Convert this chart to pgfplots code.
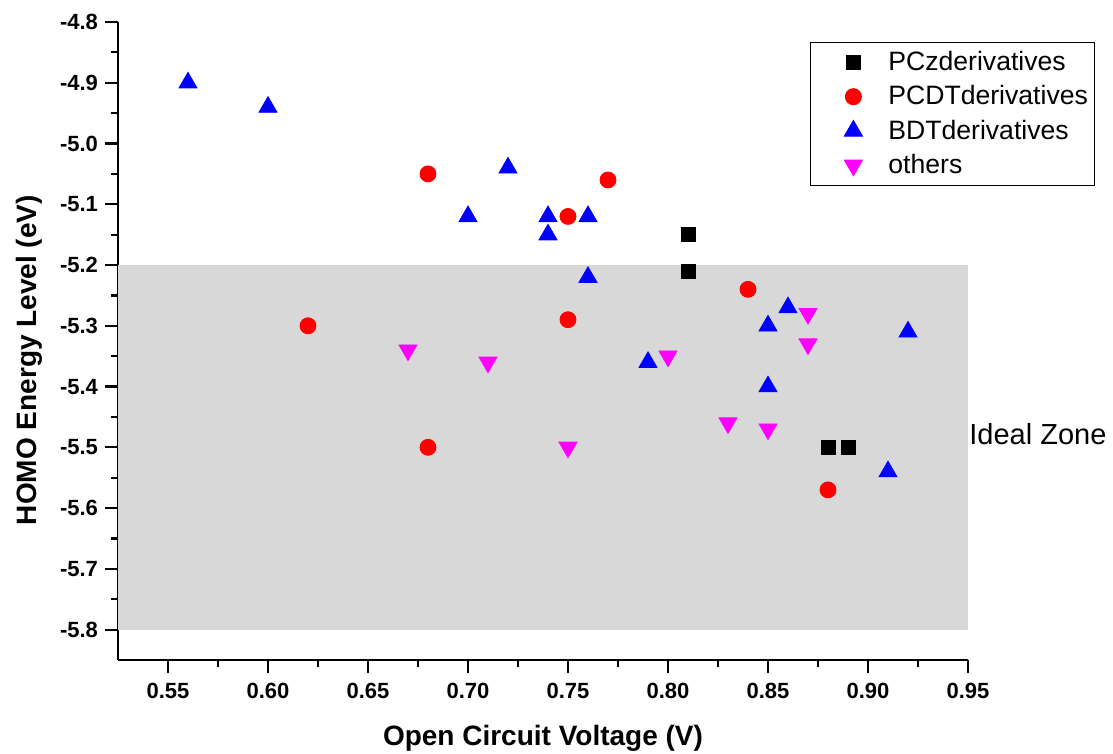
\documentclass[border=0pt]{standalone}
\usepackage{pgfplots}
\pgfplotsset{compat=1.18}
\usepackage{fontspec}
\setmainfont{Liberation Sans}
\definecolor{zone}{HTML}{D8D8D8}
\definecolor{mag}{HTML}{FF00FF}

\begin{document}
\begin{tikzpicture}
\useasboundingbox (-59pt,-47pt) rectangle (497.5pt,330pt);
\begin{axis}[
    scale only axis,
    width=425pt,
    height=319pt,
    xmin=0.525, xmax=0.95,
    ymin=-5.85, ymax=-4.8,
    axis lines*=left,
    axis line style={line width=1.1pt},
    tick style={black, line width=1.1pt},
    major tick length=6.5pt,
    minor tick length=3.5pt,
    tick align=outside,
    xtick={0.55,0.60,...,0.951},
    ytick={-5.8,-5.7,...,-4.79},
    minor x tick num=1,
    minor y tick num=1,
    xticklabel style={yshift=-1.5pt,/pgf/number format/.cd,fixed,fixed zerofill,precision=2,assume math mode=true},
    yticklabel style={/pgf/number format/.cd,fixed,fixed zerofill,precision=1,assume math mode=true},
    ticklabel style={font=\fontsize{11}{13}\selectfont\bfseries},
    xlabel={Open Circuit Voltage (V)},
    ylabel={HOMO Energy Level (eV)},
    label style={font=\fontsize{14}{16}\selectfont\bfseries},
    xlabel style={at={(axis description cs:0.5,0)}, anchor=base, yshift=-42.5pt},
    ylabel style={at={(axis description cs:0,0.47)}, anchor=base, yshift=40.5pt},
    legend style={
        at={(0.814,0.969)},
        anchor=north west,
        draw=black,
        line width=0.5pt,
        font=\fontsize{13.3}{15}\selectfont,
        row sep=2pt,
        inner xsep=1.5pt,
        inner ysep=2.5pt,
    },
    legend image code/.code={
        \path[draw=none, fill=none] (0pt,0pt) -- (35.5pt,0pt);
        \draw[#1] plot coordinates {(20pt,0pt)};
    },
    legend cell align=left,
    clip=false,
]

\addplot[draw=none, fill=zone, forget plot]
coordinates {(0.525,-5.8) (0.95,-5.8) (0.95,-5.2) (0.525,-5.2)} -- cycle;

\addplot[only marks, mark=square*, mark size=3.5pt, black]
coordinates {(0.81,-5.15) (0.81,-5.21) (0.88,-5.50) (0.89,-5.50)};
\addlegendentry{PCzderivatives}

\addplot[only marks, mark=*, mark size=4pt, red, mark options={fill=red}]
coordinates {
    (0.68,-5.05) (0.77,-5.06) (0.75,-5.12) (0.84,-5.24)
    (0.62,-5.30) (0.75,-5.29) (0.68,-5.50) (0.88,-5.57)
};
\addlegendentry{PCDTderivatives}

\addplot[only marks, mark=triangle*, mark size=5.2pt, blue, mark options={fill=blue}]
coordinates {
    (0.56,-4.90) (0.60,-4.94) (0.72,-5.04) (0.70,-5.12)
    (0.74,-5.12) (0.76,-5.12) (0.74,-5.15) (0.76,-5.22)
    (0.79,-5.36) (0.85,-5.30) (0.86,-5.27) (0.92,-5.31)
    (0.85,-5.40) (0.91,-5.54)
};
\addlegendentry{BDTderivatives}

\addplot[only marks, mark=triangle*, mark size=5.2pt, mag, mark options={fill=mag, rotate=180}]
coordinates {
    (0.67,-5.34) (0.71,-5.36) (0.80,-5.35) (0.75,-5.50)
    (0.83,-5.46) (0.85,-5.47) (0.87,-5.28) (0.87,-5.33)
};
\addlegendentry{others}

\node[anchor=base west, font=\fontsize{14.5}{16}\selectfont, inner sep=0pt, xshift=0.5pt]
    at (axis cs:0.95,-5.495) {Ideal Zone};
\end{axis}
\end{tikzpicture}
\end{document}
